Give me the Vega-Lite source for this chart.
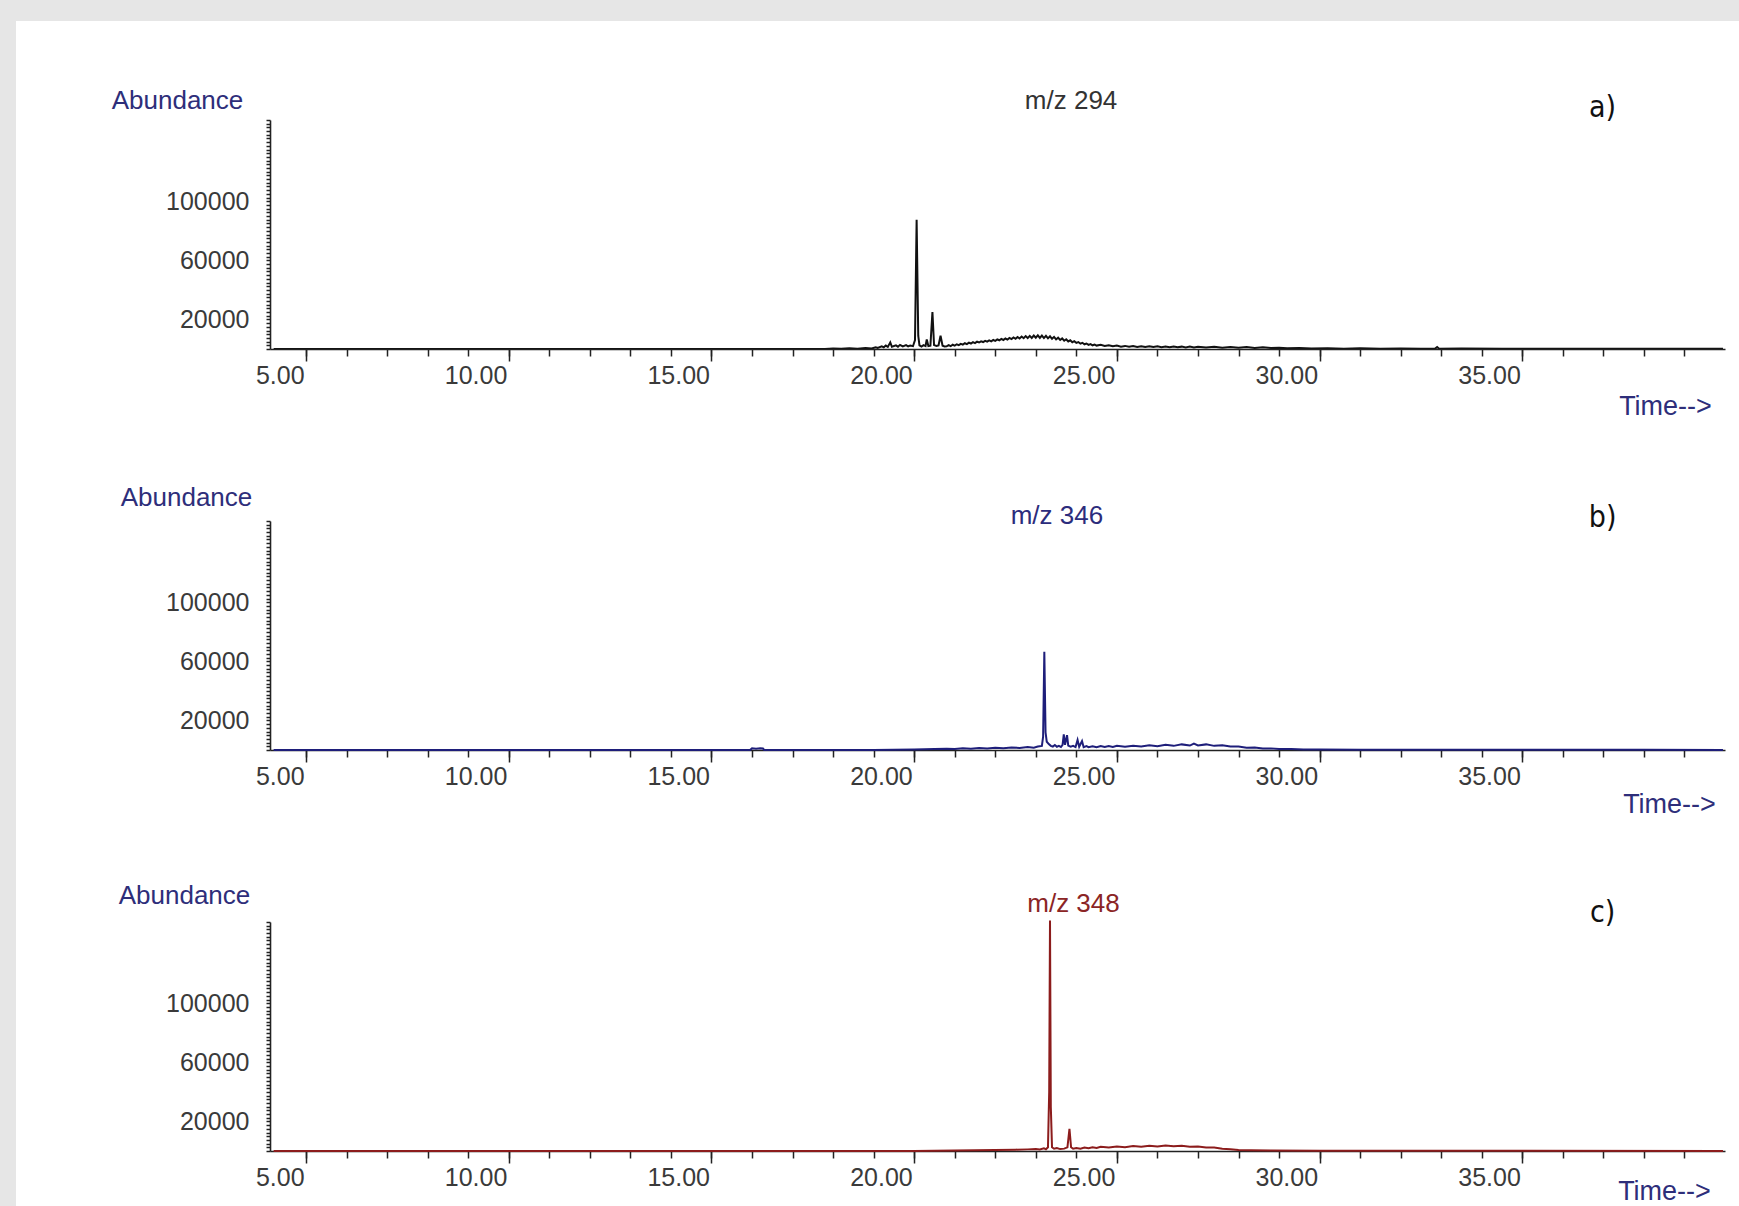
{
  "$schema": "https://vega.github.io/schema/vega-lite/v6.json",
  "background": "#e6e6e6",
  "padding": {"left": 16, "top": 20, "right": 0, "bottom": 0},
  "bounds": "flush",
  "spacing": 172,
  "config": {
    "font": "Liberation Sans",
    "view": {"stroke": null},
    "axis": {
      "grid": false,
      "labelFont": "Liberation Sans",
      "labelFontSize": 25,
      "labelColor": "#3a3a3a",
      "domainColor": "#222222",
      "tickColor": "#222222",
      "domainWidth": 1.6,
      "tickWidth": 1.5,
      "titleFont": "Liberation Sans",
      "titleFontSize": 26,
      "titleFontWeight": "normal",
      "titleColor": "#2e2e7a",
      "labelOverlap": false,
      "labelFlush": false
    }
  },
  "datasets": {
    "a": [
      {"t": 4.2, "v": 0}, {"t": 17.8, "v": 0}, {"t": 18.0, "v": 300}, {"t": 18.2, "v": 150}, {"t": 18.4, "v": 500}, {"t": 18.6, "v": 250}, {"t": 18.8, "v": 600}, {"t": 18.95, "v": 400},
      {"t": 19.05, "v": 1200}, {"t": 19.1, "v": 700}, {"t": 19.2, "v": 1800}, {"t": 19.25, "v": 1100}, {"t": 19.3, "v": 2300}, {"t": 19.35, "v": 1400}, {"t": 19.41, "v": 4500}, {"t": 19.45, "v": 1500},
      {"t": 19.55, "v": 2500}, {"t": 19.6, "v": 1600}, {"t": 19.65, "v": 2800}, {"t": 19.72, "v": 1700}, {"t": 19.8, "v": 2600}, {"t": 19.85, "v": 1800}, {"t": 19.9, "v": 2300}, {"t": 19.97, "v": 1900},
      {"t": 20.02, "v": 6000}, {"t": 20.06, "v": 87500}, {"t": 20.1, "v": 9000}, {"t": 20.13, "v": 2500}, {"t": 20.18, "v": 1600}, {"t": 20.23, "v": 2600}, {"t": 20.28, "v": 2000}, {"t": 20.31, "v": 6500},
      {"t": 20.35, "v": 2000}, {"t": 20.4, "v": 2300}, {"t": 20.45, "v": 25000}, {"t": 20.49, "v": 2600}, {"t": 20.55, "v": 2000}, {"t": 20.6, "v": 2400}, {"t": 20.65, "v": 9000}, {"t": 20.7, "v": 2200}, {"t": 20.75, "v": 1700},
      {"t": 20.8, "v": 1800}, {"t": 20.85, "v": 2600}, {"t": 20.9, "v": 1900}, {"t": 20.95, "v": 2900}, {"t": 21.0, "v": 2300}, {"t": 21.05, "v": 3200}, {"t": 21.1, "v": 2600}, {"t": 21.15, "v": 3500},
      {"t": 21.2, "v": 3000}, {"t": 21.25, "v": 3900}, {"t": 21.3, "v": 3300}, {"t": 21.35, "v": 4300}, {"t": 21.4, "v": 3700}, {"t": 21.45, "v": 4600}, {"t": 21.5, "v": 4000}, {"t": 21.55, "v": 5000},
      {"t": 21.6, "v": 4400}, {"t": 21.65, "v": 5200}, {"t": 21.7, "v": 4700}, {"t": 21.75, "v": 5500}, {"t": 21.8, "v": 5000}, {"t": 21.85, "v": 5800}, {"t": 21.9, "v": 5200}, {"t": 21.95, "v": 6100},
      {"t": 22.0, "v": 5500}, {"t": 22.05, "v": 6500}, {"t": 22.1, "v": 5900}, {"t": 22.15, "v": 6800}, {"t": 22.2, "v": 6100}, {"t": 22.25, "v": 7100}, {"t": 22.3, "v": 6400}, {"t": 22.35, "v": 7500},
      {"t": 22.4, "v": 6700}, {"t": 22.45, "v": 7800}, {"t": 22.5, "v": 6900}, {"t": 22.55, "v": 8100}, {"t": 22.6, "v": 7100}, {"t": 22.65, "v": 8400}, {"t": 22.7, "v": 7300}, {"t": 22.75, "v": 8700},
      {"t": 22.8, "v": 7400}, {"t": 22.85, "v": 8900}, {"t": 22.9, "v": 7500}, {"t": 22.95, "v": 9100}, {"t": 23.0, "v": 7600}, {"t": 23.05, "v": 9200}, {"t": 23.1, "v": 7500}, {"t": 23.15, "v": 9100},
      {"t": 23.2, "v": 7400}, {"t": 23.25, "v": 8900}, {"t": 23.3, "v": 7200}, {"t": 23.35, "v": 8600}, {"t": 23.4, "v": 6900}, {"t": 23.45, "v": 8200}, {"t": 23.5, "v": 6500}, {"t": 23.55, "v": 7700},
      {"t": 23.6, "v": 6100}, {"t": 23.65, "v": 7200}, {"t": 23.7, "v": 5600}, {"t": 23.75, "v": 6600}, {"t": 23.8, "v": 5100}, {"t": 23.85, "v": 5900}, {"t": 23.9, "v": 4600}, {"t": 23.95, "v": 5300},
      {"t": 24.0, "v": 4100}, {"t": 24.05, "v": 4700}, {"t": 24.1, "v": 3600}, {"t": 24.15, "v": 4200}, {"t": 24.2, "v": 3200}, {"t": 24.25, "v": 3700}, {"t": 24.3, "v": 2800}, {"t": 24.35, "v": 3300},
      {"t": 24.4, "v": 2500}, {"t": 24.45, "v": 3000}, {"t": 24.5, "v": 2300}, {"t": 24.6, "v": 2800}, {"t": 24.7, "v": 2000}, {"t": 24.8, "v": 2500}, {"t": 24.9, "v": 1800}, {"t": 25.0, "v": 2300},
      {"t": 25.1, "v": 1600}, {"t": 25.2, "v": 2100}, {"t": 25.3, "v": 1500}, {"t": 25.4, "v": 2000}, {"t": 25.5, "v": 1400}, {"t": 25.6, "v": 1900}, {"t": 25.7, "v": 1300}, {"t": 25.8, "v": 1800},
      {"t": 25.9, "v": 1300}, {"t": 26.0, "v": 1800}, {"t": 26.1, "v": 1200}, {"t": 26.2, "v": 1700}, {"t": 26.3, "v": 1200}, {"t": 26.4, "v": 1700}, {"t": 26.5, "v": 1200}, {"t": 26.6, "v": 1600},
      {"t": 26.7, "v": 1100}, {"t": 26.8, "v": 1600}, {"t": 26.9, "v": 1100}, {"t": 27.0, "v": 1500}, {"t": 27.2, "v": 1000}, {"t": 27.4, "v": 1500}, {"t": 27.6, "v": 900}, {"t": 27.8, "v": 1400},
      {"t": 28.0, "v": 800}, {"t": 28.2, "v": 1300}, {"t": 28.4, "v": 700}, {"t": 28.6, "v": 1100}, {"t": 28.8, "v": 600}, {"t": 29.0, "v": 900}, {"t": 29.2, "v": 500}, {"t": 29.5, "v": 700},
      {"t": 29.8, "v": 350}, {"t": 30.2, "v": 550}, {"t": 30.6, "v": 250}, {"t": 31.0, "v": 450}, {"t": 31.5, "v": 200}, {"t": 32.0, "v": 350}, {"t": 32.5, "v": 150}, {"t": 32.85, "v": 250},
      {"t": 32.9, "v": 1300}, {"t": 32.95, "v": 200}, {"t": 33.5, "v": 300}, {"t": 34.5, "v": 150}, {"t": 36.0, "v": 250}, {"t": 37.5, "v": 100}, {"t": 39.0, "v": 200}, {"t": 39.95, "v": 100}
    ],
    "b": [
      {"t": 4.2, "v": 0}, {"t": 15.95, "v": 0}, {"t": 16.0, "v": 1100}, {"t": 16.1, "v": 900}, {"t": 16.2, "v": 1200}, {"t": 16.27, "v": 1000}, {"t": 16.3, "v": 0},
      {"t": 19.0, "v": 0}, {"t": 19.5, "v": 200}, {"t": 20.0, "v": 400}, {"t": 20.5, "v": 600}, {"t": 20.8, "v": 900}, {"t": 21.0, "v": 700}, {"t": 21.2, "v": 1200}, {"t": 21.4, "v": 900},
      {"t": 21.6, "v": 1400}, {"t": 21.8, "v": 1100}, {"t": 22.0, "v": 1500}, {"t": 22.2, "v": 1200}, {"t": 22.4, "v": 1700}, {"t": 22.6, "v": 1400}, {"t": 22.8, "v": 2000}, {"t": 22.95, "v": 1600},
      {"t": 23.05, "v": 2300}, {"t": 23.15, "v": 2800}, {"t": 23.18, "v": 9000}, {"t": 23.21, "v": 66500}, {"t": 23.24, "v": 12000}, {"t": 23.27, "v": 5600}, {"t": 23.32, "v": 4000},
      {"t": 23.37, "v": 2800}, {"t": 23.42, "v": 2300}, {"t": 23.47, "v": 3400}, {"t": 23.52, "v": 2200}, {"t": 23.57, "v": 2800}, {"t": 23.62, "v": 2000}, {"t": 23.66, "v": 3500},
      {"t": 23.69, "v": 10500}, {"t": 23.72, "v": 3500}, {"t": 23.77, "v": 10000}, {"t": 23.8, "v": 3000}, {"t": 23.86, "v": 2300}, {"t": 23.92, "v": 2800}, {"t": 23.98, "v": 2000},
      {"t": 24.03, "v": 6800}, {"t": 24.07, "v": 2200}, {"t": 24.14, "v": 6000}, {"t": 24.18, "v": 1900}, {"t": 24.25, "v": 2600}, {"t": 24.3, "v": 1900}, {"t": 24.4, "v": 2600},
      {"t": 24.5, "v": 1900}, {"t": 24.6, "v": 2700}, {"t": 24.7, "v": 2000}, {"t": 24.8, "v": 2700}, {"t": 24.9, "v": 2100}, {"t": 25.0, "v": 2800}, {"t": 25.2, "v": 2200}, {"t": 25.4, "v": 2900},
      {"t": 25.6, "v": 2400}, {"t": 25.8, "v": 3200}, {"t": 26.0, "v": 2600}, {"t": 26.2, "v": 3500}, {"t": 26.4, "v": 2800}, {"t": 26.6, "v": 3800}, {"t": 26.8, "v": 3000}, {"t": 26.9, "v": 4300},
      {"t": 27.0, "v": 3100}, {"t": 27.2, "v": 3800}, {"t": 27.4, "v": 2800}, {"t": 27.6, "v": 3200}, {"t": 27.8, "v": 2300}, {"t": 28.0, "v": 2400}, {"t": 28.2, "v": 1600}, {"t": 28.4, "v": 1700},
      {"t": 28.6, "v": 1100}, {"t": 28.8, "v": 1100}, {"t": 29.0, "v": 700}, {"t": 29.3, "v": 700}, {"t": 29.6, "v": 400}, {"t": 30.0, "v": 400}, {"t": 31.0, "v": 250}, {"t": 32.0, "v": 150},
      {"t": 34.0, "v": 200}, {"t": 36.0, "v": 100}, {"t": 38.0, "v": 150}, {"t": 39.95, "v": 50}
    ],
    "c": [
      {"t": 4.2, "v": 0}, {"t": 20.0, "v": 0}, {"t": 20.5, "v": 200}, {"t": 21.0, "v": 400}, {"t": 21.5, "v": 500}, {"t": 22.0, "v": 700}, {"t": 22.5, "v": 900}, {"t": 22.8, "v": 1100},
      {"t": 23.0, "v": 1300}, {"t": 23.1, "v": 1000}, {"t": 23.2, "v": 1800}, {"t": 23.25, "v": 1200}, {"t": 23.3, "v": 2500}, {"t": 23.33, "v": 40000}, {"t": 23.35, "v": 156000},
      {"t": 23.37, "v": 30000}, {"t": 23.4, "v": 2500}, {"t": 23.45, "v": 1500}, {"t": 23.52, "v": 2000}, {"t": 23.6, "v": 1300}, {"t": 23.7, "v": 1600}, {"t": 23.78, "v": 2500},
      {"t": 23.83, "v": 15000}, {"t": 23.87, "v": 2500}, {"t": 23.92, "v": 1500}, {"t": 24.0, "v": 2000}, {"t": 24.1, "v": 1600}, {"t": 24.2, "v": 2300}, {"t": 24.3, "v": 1800}, {"t": 24.4, "v": 2500},
      {"t": 24.5, "v": 2000}, {"t": 24.6, "v": 2800}, {"t": 24.8, "v": 2300}, {"t": 25.0, "v": 3000}, {"t": 25.2, "v": 2600}, {"t": 25.4, "v": 3300}, {"t": 25.6, "v": 2800}, {"t": 25.8, "v": 3500},
      {"t": 26.0, "v": 3000}, {"t": 26.2, "v": 3700}, {"t": 26.4, "v": 3200}, {"t": 26.6, "v": 3600}, {"t": 26.8, "v": 2900}, {"t": 27.0, "v": 3100}, {"t": 27.2, "v": 2400}, {"t": 27.4, "v": 2300},
      {"t": 27.6, "v": 1500}, {"t": 27.8, "v": 1200}, {"t": 28.0, "v": 700}, {"t": 28.3, "v": 500}, {"t": 28.8, "v": 300}, {"t": 30.0, "v": 200}, {"t": 32.0, "v": 100}, {"t": 35.0, "v": 150}, {"t": 39.95, "v": 50}
    ]
  },
  "vconcat": [
    {
      "width": 1455,
      "height": 229,
      "resolve": {"axis": {"x": "independent", "y": "independent"}},
      "layer": [
        {
          "data": {"values": [{}]},
          "mark": {"type": "rect", "fill": "white", "stroke": null},
          "encoding": {
            "x": {"datum": -2.155, "type": "quantitative", "scale": {"domain": [4.11, 40], "nice": false, "zero": false}, "axis": null},
            "x2": {"datum": 40.345},
            "y": {"datum": 222013, "type": "quantitative", "scale": {"domain": [0, 155000], "nice": false}, "axis": null},
            "y2": {"datum": -580000}
          }
        },
        {
          "data": {"name": "a"},
          "mark": {"type": "line", "color": "#111111", "strokeWidth": 2},
          "encoding": {
            "x": {"field": "t", "type": "quantitative", "scale": {"domain": [4.11, 40], "nice": false, "zero": false},
              "axis": {"orient": "bottom", "zindex": 1, "values": [5,6,7,8,9,10,11,12,13,14,15,16,17,18,19,20,21,22,23,24,25,26,27,28,29,30,31,32,33,34,35,36,37,38,39], "tickSize": 7, "labels": false, "domain": true, "title": null}},
            "y": {"field": "v", "type": "quantitative", "scale": {"domain": [0, 155000], "nice": false},
              "axis": {"orient": "left", "zindex": 1, "values": [0,2500,5000,7500,10000,12500,15000,17500,20000,22500,25000,27500,30000,32500,35000,37500,40000,42500,45000,47500,50000,52500,55000,57500,60000,62500,65000,67500,70000,72500,75000,77500,80000,82500,85000,87500,90000,92500,95000,97500,100000,102500,105000,107500,110000,112500,115000,117500,120000,122500,125000,127500,130000,132500,135000,137500,140000,142500,145000,147500,150000,152500,155000],
                "format": "d", "labelExpr": "(datum.value == 20000 || datum.value == 60000 || datum.value == 100000) ? datum.label : ''",
                "tickSize": 4, "labelPadding": 17, "labelBaseline": "middle",
                "title": "Abundance", "titleAngle": 0, "titleX": -93, "titleY": -20, "titleAlign": "center", "titleBaseline": "middle"}}
          }
        },
        {
          "data": {"name": "a"},
          "mark": {"type": "line", "strokeOpacity": 0},
          "encoding": {
            "x": {"field": "t", "type": "quantitative", "scale": {"domain": [4.11, 40], "nice": false, "zero": false},
              "axis": {"orient": "bottom", "zindex": 1, "values": [5,10,15,20,25,30,35], "format": ".2f", "tickSize": 12, "domain": false, "labelAlign": "right", "labelOffset": -2, "labelPadding": 14, "labelBaseline": "middle",
                "title": "Time-->", "titleFontSize": 27, "titleX": 1395, "titleY": 57, "titleAlign": "center", "titleBaseline": "middle"}},
            "y": {"field": "v", "type": "quantitative", "scale": {"domain": [0, 155000], "nice": false}, "axis": null}
          }
        },
        {
          "data": {"values": [{}]},
          "mark": {"type": "text", "text": "m/z 294", "font": "Liberation Sans", "fontSize": 26, "color": "#333333", "align": "center", "baseline": "middle"},
          "encoding": {
            "x": {"datum": 23.87, "type": "quantitative", "scale": {"domain": [4.11, 40], "nice": false, "zero": false}, "axis": null},
            "y": {"datum": 167860, "type": "quantitative", "scale": {"domain": [0, 155000], "nice": false}, "axis": null}
          }
        },
        {
          "data": {"values": [{}]},
          "mark": {"type": "text", "text": "a)", "font": "Liberation Sans Narrow, DejaVu Sans Condensed, Liberation Sans", "fontSize": 30, "color": "#111111", "align": "center", "baseline": "middle"},
          "encoding": {
            "x": {"datum": 36.98, "type": "quantitative", "scale": {"domain": [4.11, 40], "nice": false, "zero": false}, "axis": null},
            "y": {"datum": 163400, "type": "quantitative", "scale": {"domain": [0, 155000], "nice": false}, "axis": null}
          }
        }
      ]
    },
    {
      "width": 1455,
      "height": 229,
      "resolve": {"axis": {"x": "independent", "y": "independent"}},
      "layer": [
        {
          "data": {"name": "b"},
          "mark": {"type": "line", "color": "#1e1e7a", "strokeWidth": 2},
          "encoding": {
            "x": {"field": "t", "type": "quantitative", "scale": {"domain": [4.11, 40], "nice": false, "zero": false},
              "axis": {"orient": "bottom", "values": [5,6,7,8,9,10,11,12,13,14,15,16,17,18,19,20,21,22,23,24,25,26,27,28,29,30,31,32,33,34,35,36,37,38,39], "tickSize": 7, "labels": false, "domain": true, "title": null}},
            "y": {"field": "v", "type": "quantitative", "scale": {"domain": [0, 155000], "nice": false},
              "axis": {"orient": "left", "values": [0,2500,5000,7500,10000,12500,15000,17500,20000,22500,25000,27500,30000,32500,35000,37500,40000,42500,45000,47500,50000,52500,55000,57500,60000,62500,65000,67500,70000,72500,75000,77500,80000,82500,85000,87500,90000,92500,95000,97500,100000,102500,105000,107500,110000,112500,115000,117500,120000,122500,125000,127500,130000,132500,135000,137500,140000,142500,145000,147500,150000,152500,155000],
                "format": "d", "labelExpr": "(datum.value == 20000 || datum.value == 60000 || datum.value == 100000) ? datum.label : ''",
                "tickSize": 4, "labelPadding": 17, "labelBaseline": "middle",
                "title": "Abundance", "titleAngle": 0, "titleX": -84, "titleY": -24, "titleAlign": "center", "titleBaseline": "middle"}}
          }
        },
        {
          "data": {"name": "b"},
          "mark": {"type": "line", "strokeOpacity": 0},
          "encoding": {
            "x": {"field": "t", "type": "quantitative", "scale": {"domain": [4.11, 40], "nice": false, "zero": false},
              "axis": {"orient": "bottom", "values": [5,10,15,20,25,30,35], "format": ".2f", "tickSize": 12, "domain": false, "labelAlign": "right", "labelOffset": -2, "labelPadding": 14, "labelBaseline": "middle",
                "title": "Time-->", "titleFontSize": 27, "titleX": 1399, "titleY": 54, "titleAlign": "center", "titleBaseline": "middle"}},
            "y": {"field": "v", "type": "quantitative", "scale": {"domain": [0, 155000], "nice": false}, "axis": null}
          }
        },
        {
          "data": {"values": [{}]},
          "mark": {"type": "text", "text": "m/z 346", "font": "Liberation Sans", "fontSize": 26, "color": "#2c2c7c", "align": "center", "baseline": "middle"},
          "encoding": {
            "x": {"datum": 23.52, "type": "quantitative", "scale": {"domain": [4.11, 40], "nice": false, "zero": false}, "axis": null},
            "y": {"datum": 158300, "type": "quantitative", "scale": {"domain": [0, 155000], "nice": false}, "axis": null}
          }
        },
        {
          "data": {"values": [{}]},
          "mark": {"type": "text", "text": "b)", "font": "Liberation Sans Narrow, DejaVu Sans Condensed, Liberation Sans", "fontSize": 30, "color": "#111111", "align": "center", "baseline": "middle"},
          "encoding": {
            "x": {"datum": 36.98, "type": "quantitative", "scale": {"domain": [4.11, 40], "nice": false, "zero": false}, "axis": null},
            "y": {"datum": 157000, "type": "quantitative", "scale": {"domain": [0, 155000], "nice": false}, "axis": null}
          }
        }
      ]
    },
    {
      "width": 1455,
      "height": 229,
      "resolve": {"axis": {"x": "independent", "y": "independent"}},
      "layer": [
        {
          "data": {"name": "c"},
          "mark": {"type": "line", "color": "#8c1c1c", "strokeWidth": 2},
          "encoding": {
            "x": {"field": "t", "type": "quantitative", "scale": {"domain": [4.11, 40], "nice": false, "zero": false},
              "axis": {"orient": "bottom", "values": [5,6,7,8,9,10,11,12,13,14,15,16,17,18,19,20,21,22,23,24,25,26,27,28,29,30,31,32,33,34,35,36,37,38,39], "tickSize": 7, "labels": false, "domain": true, "title": null}},
            "y": {"field": "v", "type": "quantitative", "scale": {"domain": [0, 155000], "nice": false},
              "axis": {"orient": "left", "values": [0,2500,5000,7500,10000,12500,15000,17500,20000,22500,25000,27500,30000,32500,35000,37500,40000,42500,45000,47500,50000,52500,55000,57500,60000,62500,65000,67500,70000,72500,75000,77500,80000,82500,85000,87500,90000,92500,95000,97500,100000,102500,105000,107500,110000,112500,115000,117500,120000,122500,125000,127500,130000,132500,135000,137500,140000,142500,145000,147500,150000,152500,155000],
                "format": "d", "labelExpr": "(datum.value == 20000 || datum.value == 60000 || datum.value == 100000) ? datum.label : ''",
                "tickSize": 4, "labelPadding": 17, "labelBaseline": "middle",
                "title": "Abundance", "titleAngle": 0, "titleX": -86, "titleY": -27, "titleAlign": "center", "titleBaseline": "middle"}}
          }
        },
        {
          "data": {"name": "c"},
          "mark": {"type": "line", "strokeOpacity": 0},
          "encoding": {
            "x": {"field": "t", "type": "quantitative", "scale": {"domain": [4.11, 40], "nice": false, "zero": false},
              "axis": {"orient": "bottom", "values": [5,10,15,20,25,30,35], "format": ".2f", "tickSize": 12, "domain": false, "labelAlign": "right", "labelOffset": -2, "labelPadding": 14, "labelBaseline": "middle",
                "title": "Time-->", "titleFontSize": 27, "titleX": 1394, "titleY": 40, "titleAlign": "center", "titleBaseline": "middle"}},
            "y": {"field": "v", "type": "quantitative", "scale": {"domain": [0, 155000], "nice": false}, "axis": null}
          }
        },
        {
          "data": {"values": [{}]},
          "mark": {"type": "text", "text": "m/z 348", "font": "Liberation Sans", "fontSize": 26, "color": "#8b2525", "align": "center", "baseline": "middle"},
          "encoding": {
            "x": {"datum": 23.93, "type": "quantitative", "scale": {"domain": [4.11, 40], "nice": false, "zero": false}, "axis": null},
            "y": {"datum": 167500, "type": "quantitative", "scale": {"domain": [0, 155000], "nice": false}, "axis": null}
          }
        },
        {
          "data": {"values": [{}]},
          "mark": {"type": "text", "text": "c)", "font": "Liberation Sans Narrow, DejaVu Sans Condensed, Liberation Sans", "fontSize": 30, "color": "#111111", "align": "center", "baseline": "middle"},
          "encoding": {
            "x": {"datum": 36.98, "type": "quantitative", "scale": {"domain": [4.11, 40], "nice": false, "zero": false}, "axis": null},
            "y": {"datum": 161100, "type": "quantitative", "scale": {"domain": [0, 155000], "nice": false}, "axis": null}
          }
        }
      ]
    }
  ]
}
